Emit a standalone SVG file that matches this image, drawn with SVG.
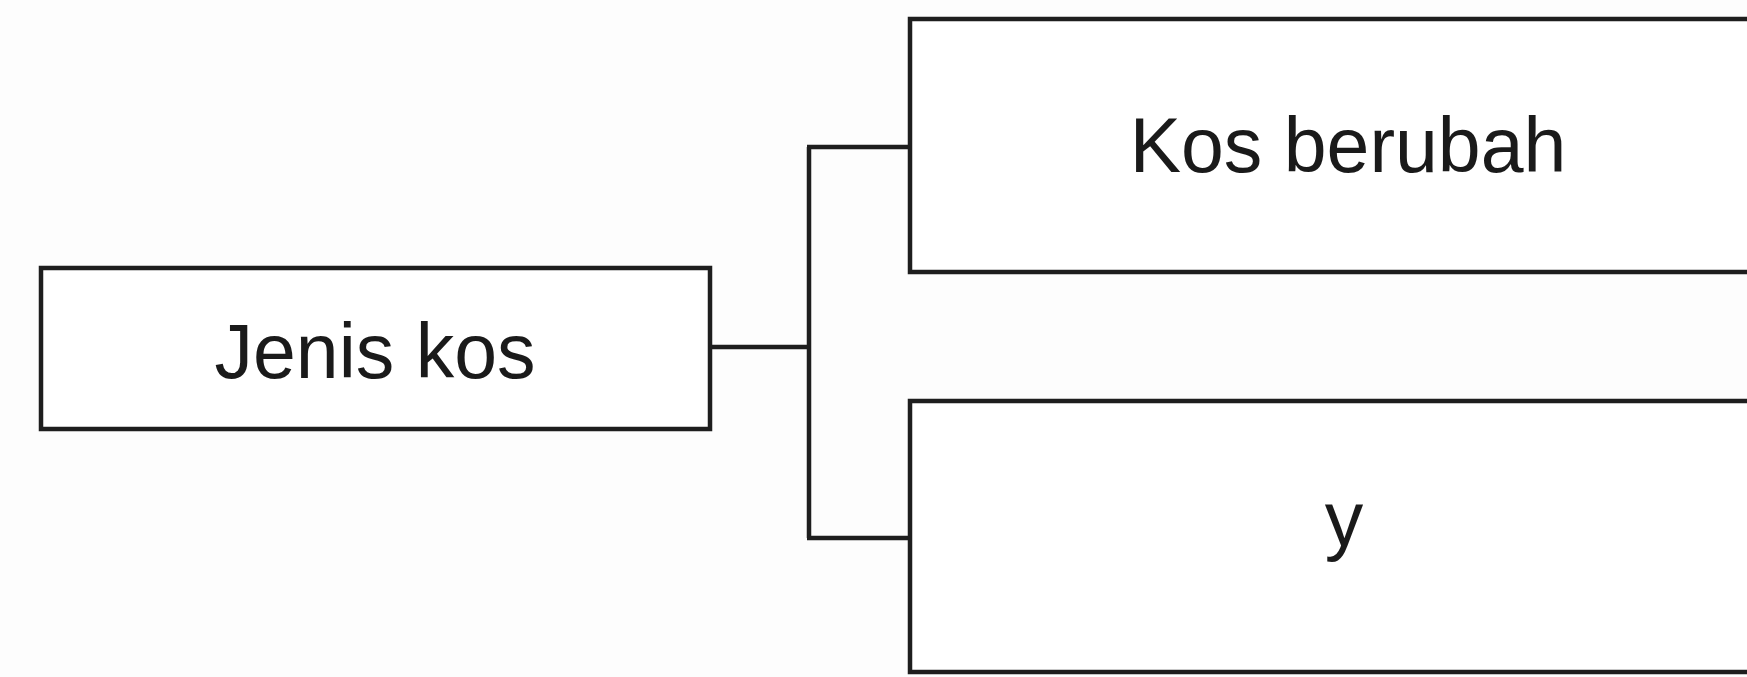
<svg xmlns="http://www.w3.org/2000/svg" width="1747" height="677" viewBox="0 0 1747 677">
<style>
.box{fill:#fff;stroke:#1e1e1e;stroke-width:4.5}
.lbl{font-family:"Liberation Sans",Arial,sans-serif;font-size:77px;fill:#1a1a1a;text-anchor:middle}
.con{fill:none;stroke:#1e1e1e;stroke-width:4.5}
</style>
<rect width="1747" height="677" fill="#fdfdfd"/>
<g id="connectors">
<path class="con" d="M710 347 H809 M809 147 V538 M807 147 H910 M807 538 H910"/>
</g>
<g id="node-jenis-kos">
<rect class="box" x="41" y="268" width="669" height="161"/>
<text class="lbl" x="375" y="378">Jenis kos</text>
</g>
<g id="node-kos-berubah">
<rect class="box" x="910" y="19" width="860" height="253"/>
<text class="lbl" x="1348" y="172">Kos berubah</text>
</g>
<g id="node-y">
<rect class="box" x="910" y="401" width="860" height="271"/>
<text class="lbl" x="1344" y="546">y</text>
</g>
</svg>
